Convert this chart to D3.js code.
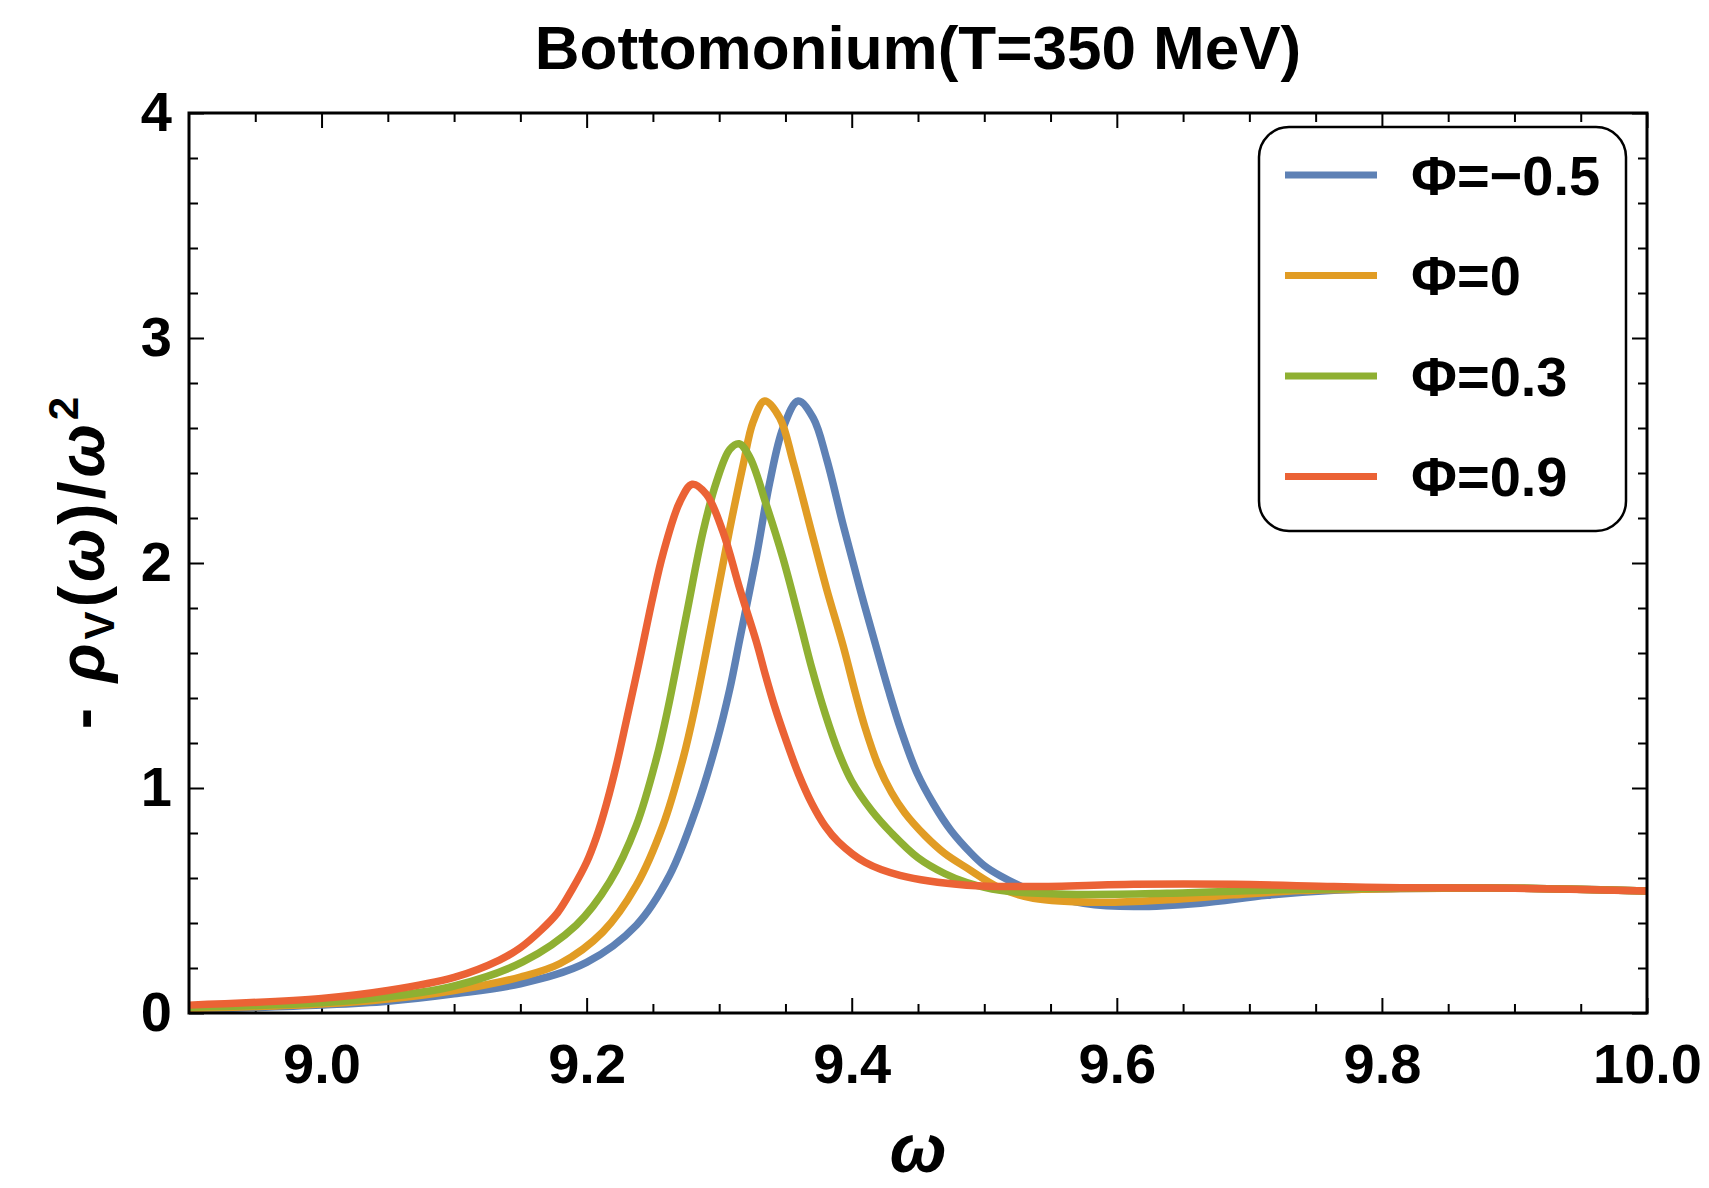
<!DOCTYPE html>
<meta charset="utf-8">
<style>
  body { margin: 0; background: #fff; }
  text { font-family: 'Liberation Sans', Arial, sans-serif; font-weight: bold; fill: #000; }
</style>
<div id="chart"></div>
<script src="https://d3js.org/d3.v7.min.js"></script>
<script>

    // [omega, -rho_V/omega^2]
    const phiM05 = [[8.9,0.015],[9.0,0.035],[9.05,0.052],[9.1,0.085],[9.15,0.13],[9.2,0.225],[9.2375,0.39],[9.2626,0.612],
                    [9.2828,0.91],[9.2979,1.2],[9.308,1.44],[9.3155,1.66],[9.3281,2.03],[9.3382,2.36],[9.3482,2.6],
                    [9.3596,2.72],[9.3709,2.645],[9.381,2.464],[9.3936,2.167],[9.4062,1.886],[9.4188,1.62],[9.428,1.43],
                    [9.437,1.26],[9.449,1.07],[9.4616,0.93],[9.475,0.81],[9.49,0.71],[9.5,0.655],[9.512,0.61],[9.537,0.54],
                    [9.575,0.488],[9.6127,0.473],[9.663,0.488],[9.7134,0.523],[9.7638,0.545],[9.8142,0.553],
                    [9.9,0.555],[10.0,0.542]];

    const phi0 = [[8.9,0.02],[9.0,0.04],[9.05,0.062],[9.1,0.1],[9.15,0.16],[9.18,0.22],[9.2122,0.36],[9.2375,0.567],
                  [9.2576,0.834],[9.2727,1.13],[9.2815,1.352],[9.2954,1.767],[9.308,2.152],[9.318,2.434],[9.3256,2.627],
                  [9.3344,2.72],[9.3457,2.645],[9.3558,2.449],[9.3684,2.167],[9.381,1.886],[9.3936,1.63],[9.4024,1.43],
                  [9.41,1.27],[9.42,1.1],[9.43,0.98],[9.44,0.89],[9.455,0.79],[9.47,0.71],[9.4868,0.645],[9.512,0.555],
                  [9.5371,0.51],[9.5875,0.492],[9.6379,0.503],[9.6882,0.525],[9.7386,0.544],[9.8142,0.553],[9.9,0.555],
                  [10.0,0.542]];

    const phi03 = [[8.9,0.025],[9.0,0.045],[9.05,0.072],[9.1,0.12],[9.1518,0.227],[9.1921,0.39],[9.2173,0.582],[9.2375,0.834],
                   [9.2526,1.13],[9.2613,1.352],[9.2752,1.767],[9.2878,2.138],[9.2979,2.36],[9.308,2.505],[9.315,2.53],
                   [9.3231,2.47],[9.3357,2.256],[9.3482,2.02],[9.3608,1.74],[9.37,1.53],[9.38,1.33],[9.39,1.16],[9.4,1.03],
                   [9.415,0.9],[9.43,0.8],[9.45,0.69],[9.47,0.62],[9.4868,0.58],[9.512,0.545],[9.5623,0.528],[9.6379,0.532],
                   [9.7134,0.546],[9.8142,0.555],[9.9,0.555],[10.0,0.542]];

    const phi09 = [[8.9,0.035],[9.0,0.065],[9.05,0.1],[9.1,0.158],[9.1342,0.235],[9.15,0.29],[9.165,0.365],[9.178,0.445],
                   [9.1896,0.555],[9.2,0.67],[9.2073,0.78],[9.215,0.93],[9.2224,1.1],[9.23,1.3],[9.24,1.57],[9.25,1.85],
                   [9.2576,2.04],[9.2702,2.27],[9.2797,2.35],[9.2904,2.305],[9.3029,2.138],[9.3155,1.886],[9.3281,1.649],
                   [9.335,1.5],[9.342,1.36],[9.35,1.22],[9.36,1.06],[9.37,0.93],[9.38,0.83],[9.39,0.76],[9.41,0.67],
                   [9.4364,0.612],[9.4868,0.568],[9.5371,0.562],[9.6127,0.572],[9.6882,0.572],[9.7638,0.562],[9.8142,0.557],
                   [9.9,0.554],[10.0,0.542]];

    const seriesNames = ["Φ=−0.5", "Φ=0", "Φ=0.3", "Φ=0.9"];
    const seriesData  = [phiM05, phi0, phi03, phi09];
    const colors      = ["#5E81B5", "#E19C24", "#8FB032", "#EB6235"];

    const xTicks = [9.0, 9.2, 9.4, 9.6, 9.8, 10.0];
    const yTicks = [0, 1, 2, 3, 4];

    var width  = 1709;
    var height = 1188;

    const x = d3.scaleLinear().domain([8.9, 10.0]).range([189, 1647]);
    const y = d3.scaleLinear().domain([0, 4]).range([1013, 113]);

    const svg = d3.select("#chart")
                  .append("svg")
                  .attr("width", width)
                  .attr("height", height);

    // minor ticks
    const xMinor = d3.range(8.95, 10.0, 0.05).filter(v => Math.abs(Math.round(v * 5) - v * 5) > 0.01);
    const yMinor = d3.range(0.2, 4, 0.2).filter(v => Math.abs(Math.round(v) - v) > 0.01);

    function styleAxis(g) {
        g.select(".domain").remove();
        g.selectAll("line").attr("stroke", "#000").attr("stroke-width", 2);
    }

    svg.append("g").attr("transform", "translate(0,1013)")
       .call(d3.axisBottom(x).tickValues(xMinor).tickSize(-9).tickFormat(""))
       .call(styleAxis);
    svg.append("g").attr("transform", "translate(0,113)")
       .call(d3.axisTop(x).tickValues(xMinor).tickSize(-9).tickFormat(""))
       .call(styleAxis);
    svg.append("g").attr("transform", "translate(0,113)")
       .call(d3.axisTop(x).tickValues(xTicks).tickSize(-15).tickFormat(""))
       .call(styleAxis);
    svg.append("g").attr("transform", "translate(189,0)")
       .call(d3.axisLeft(y).tickValues(yMinor).tickSize(-9).tickFormat(""))
       .call(styleAxis);
    svg.append("g").attr("transform", "translate(1647,0)")
       .call(d3.axisRight(y).tickValues(yMinor).tickSize(-9).tickFormat(""))
       .call(styleAxis);
    svg.append("g").attr("transform", "translate(1647,0)")
       .call(d3.axisRight(y).tickValues(yTicks).tickSize(-15).tickFormat(""))
       .call(styleAxis);

    const xAxis = svg.append("g").attr("transform", "translate(0,1013)")
                     .call(d3.axisBottom(x).tickValues(xTicks).tickSize(-15).tickPadding(30).tickFormat(d3.format(".1f")))
                     .call(styleAxis);
    xAxis.selectAll("text").attr("font-size", 56).attr("font-family", null).attr("fill", "#000");

    const yAxis = svg.append("g").attr("transform", "translate(189,0)")
                     .call(d3.axisLeft(y).tickValues(yTicks).tickSize(-15).tickPadding(17).tickFormat(d3.format("d")))
                     .call(styleAxis);
    yAxis.selectAll("text").attr("font-size", 56).attr("font-family", null).attr("fill", "#000");

    // curves
    const line = d3.line()
                   .x(d => x(d[0]))
                   .y(d => y(d[1]))
                   .curve(d3.curveCatmullRom.alpha(0.5));

    svg.append("g")
       .selectAll("path")
       .data(seriesData)
       .join("path")
       .attr("fill", "none")
       .attr("stroke", (d, i) => colors[i])
       .attr("stroke-width", 7.5)
       .attr("stroke-linejoin", "round")
       .attr("d", line);

    // frame
    svg.append("rect")
       .attr("x", 189).attr("y", 113)
       .attr("width", 1647 - 189).attr("height", 1013 - 113)
       .attr("fill", "none")
       .attr("stroke", "#000")
       .attr("stroke-width", 3);

    // title
    svg.append("text")
       .attr("x", 918).attr("y", 69)
       .attr("text-anchor", "middle")
       .attr("font-size", 62)
       .text("Bottomonium(T=350 MeV)");

    // x label
    svg.append("text")
       .attr("x", 918).attr("y", 1172)
       .attr("text-anchor", "middle")
       .attr("font-size", 68)
       .attr("font-style", "italic")
       .text("ω");

    // y label
    const yLabel = svg.append("text")
                      .attr("transform", "translate(104,561) rotate(-90)")
                      .attr("text-anchor", "middle")
                      .attr("font-size", 64)
                      .attr("letter-spacing", 4);
    yLabel.append("tspan").text("- ");
    yLabel.append("tspan").attr("font-style", "italic").text("ρ");
    yLabel.append("tspan").attr("font-size", 42).attr("dy", 10).text("V");
    yLabel.append("tspan").attr("dy", -10).text("(");
    yLabel.append("tspan").attr("font-style", "italic").text("ω");
    yLabel.append("tspan").text(")/");
    yLabel.append("tspan").attr("font-style", "italic").text("ω");
    yLabel.append("tspan").attr("font-size", 42).attr("dy", -26).text("2");

    // legend
    const legend = svg.append("g");
    legend.append("rect")
          .attr("x", 1259).attr("y", 127)
          .attr("width", 367).attr("height", 404)
          .attr("rx", 30).attr("ry", 30)
          .attr("fill", "#fff")
          .attr("stroke", "#000")
          .attr("stroke-width", 2.5);

    const entry = legend.selectAll("g.entry")
                        .data(seriesNames)
                        .join("g")
                        .attr("class", "entry")
                        .attr("transform", (d, i) => `translate(0,${175 + i * 100.5})`);
    entry.append("line")
         .attr("x1", 1285).attr("x2", 1377)
         .attr("stroke", (d, i) => colors[i])
         .attr("stroke-width", 7);
    entry.append("text")
         .attr("x", 1411)
         .attr("dominant-baseline", "central")
         .attr("font-size", 56)
         .text(d => d);

</script>
